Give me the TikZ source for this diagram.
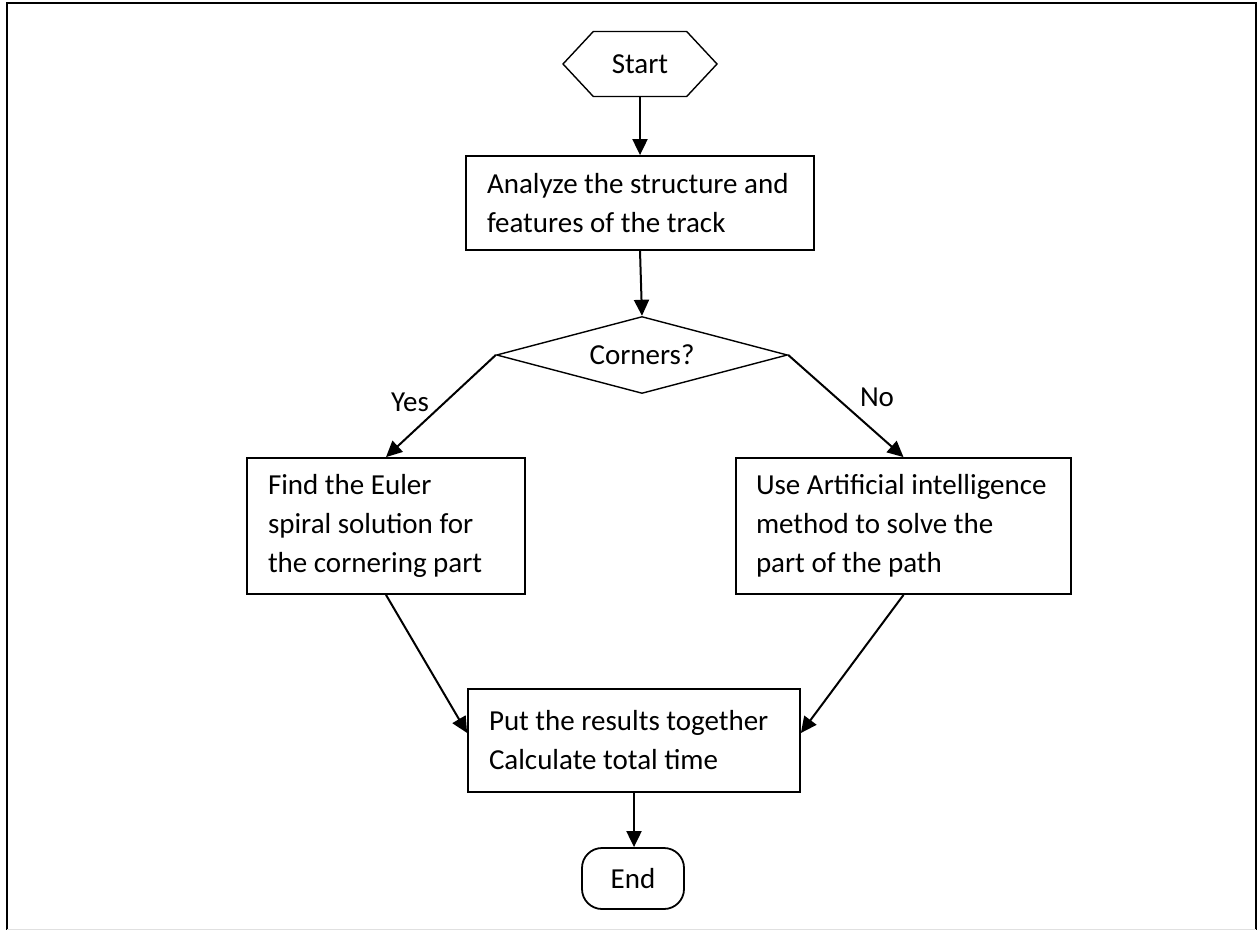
\documentclass[tikz,border=0pt]{standalone}
\usepackage{fontspec}
\setmainfont{Carlito}
\usetikzlibrary{positioning,shapes.geometric,shapes.symbols,arrows.meta}

\begin{document}
\begin{tikzpicture}[x=0.5pt,y=-0.5pt,
    every node/.style={font=\fontsize{14.5}{19.5}\selectfont},
    box/.style={draw,line width=0.9pt,align=flush left,inner xsep=10.5pt,inner ysep=0pt},
    arr/.style={line width=1pt,-{Triangle[length=8pt,width=7.5pt]}}]
        \useasboundingbox (0,0) rectangle (1257,930);
        % page frame
        \draw[line width=1pt] (7,930) -- (7,3) -- (1256,3) -- (1256,930);
        \draw[black!12] (7,929) -- (1256,929);

        \node[draw,line width=0.7pt,signal,signal to=west and east,signal pointer angle=94,
              minimum width=77pt,minimum height=32.5pt,inner sep=0pt] at (640,64) (start) {Start};
        \node[box,text width=153pt,minimum height=47pt] at (640,203) (analyze)
              {Analyze the structure and\\features of the track};
        \node[draw,line width=0.7pt,diamond,aspect=3.78,inner sep=0pt,
              minimum width=145.5pt,minimum height=38.5pt] at (642,355) (corners) {Corners?};
        \node[box,text width=118pt,minimum height=68pt] at (386,526) (euler)
              {Find the Euler\\spiral solution for\\the cornering part};
        \node[box,inner xsep=10pt,text width=147.5pt,minimum height=68pt] at (903.5,526) (ai)
              {Use Artificial intelligence\\method to solve the\\part of the path};
        \node[box,text width=145pt,minimum height=51.5pt] at (634,740.5) (total)
              {Put the results together\\Calculate total time};
        \node[draw,line width=0.9pt,rounded corners=10pt,minimum width=51pt,minimum height=30.5pt]
              at (633,878.5) (end) {End};

        \node at (410,402) (yes) {Yes};
        \node at (877,397) (no) {No};

        \draw[arr] (start.south) -- (analyze.north);
        \draw[arr] (analyze.south) -- (corners.north);
        \draw[arr] (corners.west) -- (euler.north);
        \draw[arr] (corners.east) -- (ai.north);
        \draw[arr] (euler.south) -- ([yshift=3.75pt]total.west);
        \draw[arr] (ai.south) -- ([yshift=3.75pt]total.east);
        \draw[arr] (total.south) -- (total.south |- end.north);
      \end{tikzpicture}
\end{document}
